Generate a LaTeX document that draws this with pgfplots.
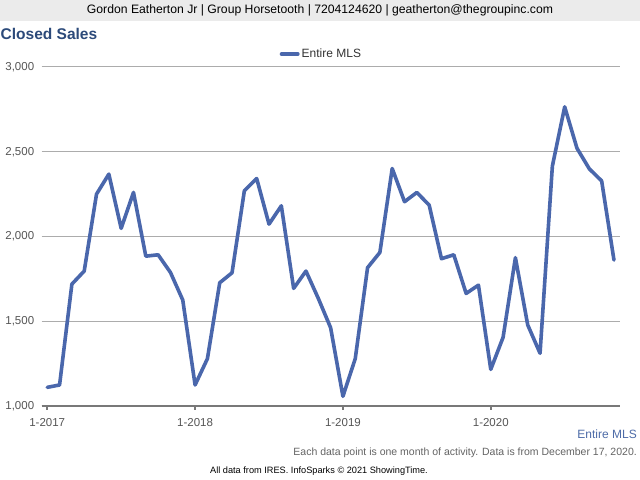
\documentclass[border=0pt]{standalone}
\usepackage{fontspec}
\setmainfont{Liberation Sans}
\usepackage{pgfplots}
\pgfplotsset{compat=1.18}
\definecolor{linec}{RGB}{74,103,172}
\definecolor{titlec}{RGB}{44,74,122}
\definecolor{gridc}{RGB}{172,172,172}
\definecolor{axisc}{RGB}{120,120,120}
\definecolor{tickc}{RGB}{85,85,85}
\definecolor{headc}{RGB}{235,235,235}
\definecolor{notec}{RGB}{100,100,100}
\definecolor{srcc}{RGB}{78,108,168}
\begin{document}
\begin{tikzpicture}[x=1bp,y=1bp]
\useasboundingbox (0,0) rectangle (640,480);
\fill[white] (0,0) rectangle (640,480);
\fill[headc] (0,459) rectangle (640,480);
\node[anchor=center,inner sep=0] at (320,470) {\fontsize{12.2bp}{14bp}\selectfont Gordon Eatherton Jr | Group Horsetooth | 7204124620 | geatherton@thegroupinc.com};
\node[anchor=base west,inner sep=0,text=titlec] at (0.5,440) {\fontsize{15.5bp}{18bp}\selectfont\bfseries Closed Sales};
\begin{axis}[
  at={(41.7bp,74bp)}, anchor=south west,
  width=577.8bp, height=339bp, scale only axis,
  xmin=-0.45, xmax=46.45, ymin=1000, ymax=3000,
  axis lines*=left,
  y axis line style={draw=none},
  x axis line style={draw=axisc, line width=2bp},
  xtick={0,12,24,36},
  xticklabels={1-2017,1-2018,1-2019,1-2020},
  ytick={1000,1500,2000,2500,3000},
  xtick align=outside,
  major tick length=4bp,
  xtick style={draw=axisc, line width=1.5bp},
  ytick style={draw=none},
  ymajorgrids,
  grid style={draw=gridc, line width=1bp},
  /pgf/number format/.cd, 1000 sep={,}, assume math mode=true,
  /pgfplots/.cd,
  yticklabel style={font=\fontsize{11.5bp}{13bp}\selectfont, text=tickc, xshift=-4bp},
  xticklabel style={font=\fontsize{11.5bp}{13bp}\selectfont, text=tickc, yshift=-5bp},
  legend style={at={(0.484,1.038)}, anchor=center, draw=none, fill=none,
    font=\fontsize{12bp}{14bp}\selectfont, text=black!80, inner sep=0pt},
  legend image code/.code={\draw[line width=4bp, linec] (0bp,0bp) -- (16bp,0bp);},
  clip=false,
]
\addplot[linec, line width=3.6bp, line join=round, line cap=round] coordinates {
(0,1110) (1,1124) (2,1719) (3,1796) (4,2250) (5,2368) (6,2048) (7,2260)
(8,1884) (9,1892) (10,1788) (11,1625) (12,1124) (13,1279) (14,1727) (15,1786)
(16,2270) (17,2342) (18,2073) (19,2181) (20,1694) (21,1796) (22,1635) (23,1462)
(24,1057) (25,1279) (26,1816) (27,1906) (28,2401) (29,2205) (30,2260) (31,2185)
(32,1869) (33,1892) (34,1664) (35,1713) (36,1216) (37,1405) (38,1875) (39,1478)
(40,1311) (41,2415) (42,2765) (43,2520) (44,2399) (45,2328) (46,1861)
};
\addlegendentry{Entire MLS}
\end{axis}
\node[anchor=base east,inner sep=0,text=srcc] at (637,41) {\fontsize{12bp}{14bp}\selectfont Entire MLS};
\node[anchor=base east,inner sep=0,text=notec] at (637,24) {\fontsize{10.5bp}{12bp}\selectfont Each data point is one month of activity. Data is from December 17, 2020.};
\node[anchor=base,inner sep=0,text=black] at (319,6) {\fontsize{9.2bp}{10bp}\selectfont All data from IRES. InfoSparks \textcopyright{} 2021 ShowingTime.};
\end{tikzpicture}
\end{document}
